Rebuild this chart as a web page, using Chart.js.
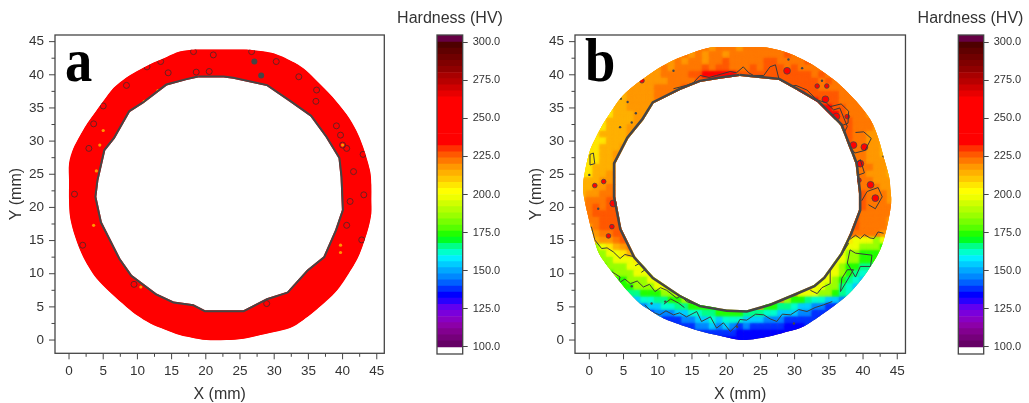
<!DOCTYPE html>
<html>
<head>
<meta charset="utf-8">
<title>Hardness maps</title>
<script src="https://cdn.jsdelivr.net/npm/chart.js@4/dist/chart.umd.min.js"></script>
<style>
  html, body { margin: 0; padding: 0; background: #fff; width: 1029px; height: 403px; overflow: hidden; }
  canvas { position: absolute; top: 0; filter: blur(0.6px); }
</style>
</head>
<body>
<canvas id="panelA" width="395" height="403" style="left:0"></canvas>
<canvas id="barA" width="120" height="403" style="left:390px"></canvas>
<canvas id="panelB" width="395" height="403" style="left:520px"></canvas>
<canvas id="barB" width="117" height="403" style="left:912px"></canvas>
<script>
// colour scale, lower edge of each band and its colour
const bandFloors = [100,104,108,112,116,120,124,128,132,136,140,144,148,152,156,160,164,168,172,176,180,184,188,192,196,200,204,208,212,216,220,224,228,232,236,240,244,248,252,256,260,264,268,272,276,280,284,288,292,296,300];
const bandColors = ['#660066','#75007a','#82008f','#8c00a8','#8800c4','#7a00dc','#6000f0','#2800ff','#0000ff','#0030ff','#0060ff','#0088ff','#00a8ff','#00ccff','#00eeff','#00ffcc','#00ff88','#00ff22','#22ff00','#55ff00','#77ff00','#99ff00','#b4ff00','#d0ff00','#eeff00','#ffff00','#ffe600','#ffc800','#ffb000','#ff9800','#ff7800','#ff5800','#ff3000','#ff0000','#ff0000','#ff0000','#ff0000','#ff0000','#ff0000','#ff0000','#ff0000','#e80000','#d00000','#b80000','#a80000','#900000','#800000','#700000','#600000','#4e0000','#660044'];
const barTop = 304.6;
const barTicks = [100,125,150,175,200,225,250,275,300];

// panel a, ring outlines in mm
const outerA = [[16.2,43.5],[18.5,43.8],[21,43.8],[23.5,43.8],[25.5,43.8],[27,43.7],[30,43.2],[33,41.8],[34.7,40.6],[36.2,39.1],[38.5,36.7],[40.6,34],[42,31.6],[43,29.1],[44,25.6],[44.2,23.4],[44.2,21.2],[44.2,19.1],[43.8,17],[43.2,15],[42.5,13],[41.6,11.2],[39.2,7.5],[36.2,4.6],[34.2,3],[32.3,1.8],[30,1.2],[28,0.75],[25.5,0.2],[23,0],[20.1,0],[18,0.35],[16.2,0.75],[14,1.6],[11.9,2.5],[10,3.7],[8.4,5],[6,7.2],[4,9.3],[2.6,11.5],[1.6,13.6],[0.7,16.2],[0.15,18.6],[0,21],[0,24],[0,26.6],[0.6,28.8],[1.6,30.8],[2.5,32.4],[3.6,34],[5,36],[6.5,38],[8.4,39.6],[10.4,40.8],[12.3,41.8],[14.3,42.7]];
const innerA = [[18.9,39.6],[22.6,39.6],[24,39.4],[28.9,38.3],[32.3,35.9],[35.3,33.7],[37.5,30.6],[39.4,27.4],[39.7,24.6],[39.9,19.6],[38.9,16.6],[37.2,12.6],[34.8,10.6],[31.9,7.3],[28.9,6.3],[25.5,4.5],[19.9,4.5],[18.2,5.4],[15.3,5.8],[12.8,7],[9.2,9.8],[7.5,12.3],[4.8,17.8],[4,21.6],[4.3,24.1],[5.3,28.6],[6.7,30.4],[8.9,34.4],[10.9,35.7],[14.3,38.4],[17.2,39.2]];
const loopsA = [[18.2,43.5],[21.1,43],[11.4,41.2],[13.4,42],[14.5,40.3],[18.6,40.4],[20.5,40.5],[8.4,38.4],[5,35.3],[3.6,32.6],[2.9,28.9],[0.8,22],[2,14.3],[9.5,8.4],[36.2,37.7],[33.6,39.7],[36.1,36],[39.1,32.3],[39.7,30.9],[40,29.4],[40.6,28.9],[43,28],[41.1,20.9],[43.1,21.9],[40.6,17.3],[42.8,15.1],[41.6,25.4],[28.9,5.5],[26.7,43.5],[30.3,42]];
const blotsA = [[27.1,42],[28.1,39.9]];
const softSpotsA = [[5,31.6],[4.5,29.4],[39.7,13.2],[39.7,14.3],[40,29.4],[13,37.6],[11,36],[10.5,8],[3.6,17.3],[4,25.5]];

// panel b, ring outlines in mm
const outerB = [[17.7,44.1],[20,44.2],[22,44.2],[24,44.2],[25.9,44.1],[28.4,43.5],[30.4,42.7],[32.3,41.7],[34.6,40.1],[36.7,38.4],[39,36],[41.1,33.2],[42.2,30.5],[43,27.6],[43.8,24.6],[44,22.6],[44.1,20.6],[43.5,17.1],[42.5,13.6],[40.6,10.3],[39,8.2],[37.2,6.3],[34.2,4],[32.5,2.8],[30.8,1.8],[28,1],[25.5,0.4],[22.5,0],[20.5,0.3],[18.6,0.75],[16.4,1.3],[14.2,2],[10.8,3.3],[9,4.4],[7.4,5.5],[5.5,7.5],[3.3,10.3],[2.2,11.8],[1.3,13.3],[0.5,16],[-0.15,18.6],[-0.9,22.6],[-0.6,25.6],[0.1,28.6],[0.9,30.4],[1.8,32.2],[3.1,34.3],[4.5,36.4],[6.1,38],[7.9,39.4],[10,40.9],[12.3,42.2],[15,43.3]];
const innerB = [[22,39.8],[24,39.6],[27.7,39.2],[30.3,37.7],[33.3,35.9],[36.7,32.4],[38.9,26.6],[39.4,22.1],[39.4,19.6],[38.1,16.1],[36.7,13.1],[34.2,9.5],[32.8,8.3],[29.9,7],[26.4,5.5],[23,4.5],[20.1,4.6],[16.2,5.3],[13.3,6.8],[9.4,9.5],[6.7,12.6],[4.7,16.8],[3.8,21.6],[3.8,26.6],[5.7,30.4],[7.9,33.2],[9.4,35.7],[13.3,37.7],[16.2,38.9],[19.1,39.4]];

// hardness read per 1 mm cell, first row is y=44, first column is x=-1
const levelCodes = { a:132, b:136, c:144, d:152, e:160, f:164, g:172, h:184, i:196, j:204, k:212, l:216, m:220, n:224, o:240 };
const hardnessRowsB = [
  '.................mmlmmmlmmmmmm',
  '.............llmlmlmmlmmmmmmmmnmmm',
  '...........lllmlmmlmmnmmmmmnnmmmmnmm',
  '.........kllmlmmmmnmnnmmmnmnnnmnmmmmml',
  '.......kllllmmmmnnooooonnnnnnnnnnnmnmmml',
  '......kklllllmmmmnnnnnnnnnnnnnnnnnnmnmmml',
  '.....kkllllmmmmnn.............nnnnnmmmmmml',
  '....jkkllllmmmnn...............oonnnnnmmmml',
  '....jkkllllmnn...................oonnnmmmmml',
  '...jjkkllllmn.....................ooonnmmmll',
  '...jjkkklllm........................oonmmmlll',
  '..jjkkkklll...........................nnmmmllk',
  '..jjkkklll............................nnmmmllk',
  '.jjkkkkll..............................nmmllkk',
  '.jjjkkkl...............................nmmllkk',
  'jjjkkkll...............................nmmllkk',
  'ijjkkll.................................mmllkk',
  'ijjkkll.................................mmlllk',
  'jjkkkl..................................mmmllk',
  'jjkklm..................................mmlllk',
  'kkkllm..................................nmmlll',
  'kkllmm..................................nmmmll',
  'kllmmn..................................nnmmml',
  'lmmmnn..................................nnmmml',
  'mmnmnn..................................nnmmmm',
  'mmnnnn..................................nmmmmm',
  '.mmnnn.................................nnmmmml',
  '.lmnnnn................................nnmmmml',
  '.jlmmnn................................nmmmmll',
  '.ikllmnn...............................jiiihih',
  '..hijklmn.............................jiihhhgh',
  '..hhiijkl.............................ihhggghh',
  '...hhiiij............................iihhgggfg',
  '...ghhhiii...........................ihggffffg',
  '....ghhhiii.........................iihgfeefff',
  '.....gghhhii.......................iihgfeddef',
  '.....fgghhhii.....................iihhfedcdee',
  '......effggghhi.................iiihhgfedcdd',
  '.......ddeeffggh..............hggfeeddcccc',
  '........ccddeeffgggg.......ggffeddccbbcc',
  '.........bbcccddeeffggggfffeedddccbbbb',
  '............bbbccddedeeedddcccbbbbba',
  '..............bbbccdcdcbcbbbbbaaabb',
  '................bbbbbbbaaaaaaaaaa',
  '...................aaaaaaaaa'
];

// iso-hardness lines in mm
const contoursB = [
  [[0.3,17.1],[0.8,15.1],[1.8,13.8],[2.6,13.9],[3.5,13.3],[4.5,12.3],[5.2,12.9],[6.4,12.6]],
  [[38.1,15.2],[38.9,15.8],[39.6,15.3],[40.2,15.9],[41,15.4],[41.6,15.3],[42.2,16.3],[43,16.1]],
  [[3.3,10.3],[4.5,9.5],[4.2,8.5],[5.2,9.2],[6,8.5],[7,8.9],[7.9,8],[8.8,8.4],[9.6,7.3],[10.4,7.9],[11.3,7.5],[12.8,6.3],[13.4,6.7],[14.2,5.8],[15.7,5.3]],
  [[8.1,5.3],[9.2,4.2],[10.3,3.8],[11.2,4.4],[12.3,3.8],[13.2,4.1],[14.2,3.5],[15.7,4.3],[16.4,2.8],[17.7,3.5],[18.6,1.8],[19.6,2.6],[20.6,1.3],[21.6,2.3],[22,3.1],[23,3],[24.3,3.9],[25.5,3.8],[26.4,3.2],[27.4,2.8],[28.2,3.9],[29.4,3.8],[30.6,4.6],[31.8,4.3],[33,4.9],[34.2,5.3],[35.5,5.8]],
  [[36.7,7.3],[37.4,8.5],[38.6,10.6],[37.7,10.6],[36.9,9.3],[36.7,7.3]],
  [[38.9,13.1],[41.3,12.8],[41.1,11.1],[39.6,11.1],[38.9,9.5],[37.7,11.6],[38.1,13.6],[38.9,13.1]],
  [[32.3,7.5],[33.3,7],[34,7.9],[35.2,8.5],[35.2,10.6],[36.7,12.6],[37.9,14.6]],
  [[12.3,37.9],[14.2,38.4],[15.2,38.8],[16.2,39.9],[17.5,39.6],[18.6,39.9],[20.6,40.5],[21.5,40.3],[22.5,41.2],[23.3,40.3],[24,39.9],[25.5,39.9],[26.4,41.2],[27.2,41.5],[27.7,39.4]],
  [[27.7,39.4],[28.9,38.2],[30.2,38.4],[31.8,37.7],[33.3,36.2],[34.6,35.8],[35.7,34.7],[36.6,35],[37.7,32.2],[37.2,31.2]],
  [[35.2,35.2],[36.8,35.6],[37.9,34.5],[37.8,32.7],[36.8,32.3],[36.1,33.4]],
  [[38.9,26.6],[39.6,27.2],[40.2,25.2],[38.5,24.6]],
  [[0.1,28],[0.6,28.2],[0.8,26.6],[0.1,26.4],[0.1,28]],
  [[39.8,21],[40.6,22.4],[42.2,23],[42.8,21.6],[41.8,19.8],[40.8,20.4]],
  [[38.9,31.3],[40.1,31.4],[41.2,30.4],[40.3,28.6],[38.8,28.2],[37.9,29.4]],
  [[10.9,5.4],[11.9,6.2],[13,5.6],[13.9,4.9]],
  [[6.7,11.2],[7.4,11.6],[8.4,10.8],[7.6,10.2]]
];
const islandsLargeB = [[28.9,40.6],[34.5,36.3],[36.1,33.7],[38.6,29.4],[40.2,29.1],[39.6,26.6],[41.1,23.4],[41.8,21.4],[3.5,20.6]];
const islandsSmallB = [[33.3,38.3],[34.7,38.3],[37.7,33.7],[39.4,24.1],[0.8,23.3],[2.1,23.9],[3.3,17.1],[2.8,15.7],[7.7,39.1]];
const dotsB = [[12.3,40.6],[29.1,42.3],[31.1,41],[34,39.1],[4.5,32.1],[6.2,32.8],[6.8,34.2],[5.6,35.9],[4.6,36.4],[43,27.7],[0,24.9],[1.3,19.8],[6.2,8.1],[9.1,5.5],[11.1,5.8],[21.6,2],[29.9,2.5]];

const EDGE = '#454545';
const INK = '#333';
Chart.defaults.font.family = '"Liberation Sans", Arial, sans-serif';
Chart.defaults.color = INK;
Chart.defaults.animation = false;
Chart.defaults.responsive = false;

const hvColor = hv => {
  let c = bandColors[0];
  bandFloors.forEach((f, i) => { if (hv >= f) c = bandColors[i]; });
  return c;
};
const toPts = list => list.map(p => ({ x: p[0], y: p[1] }));

function cellsFrom(rows) {
  const pts = [];
  rows.forEach((row, r) => {
    [...row].forEach((code, i) => {
      if (levelCodes[code]) pts.push({ x: i - 1, y: 44 - r, hv: levelCodes[code] });
    });
  });
  return pts;
}

// clip every mark to the ring, outer edge rounded through the read points, hole left as read
const ringClip = {
  id: 'ringClip',
  beforeDatasetsDraw(chart, args, opts) {
    const { ctx, scales: { x, y } } = chart;
    const outer = opts.outer.map(p => [x.getPixelForValue(p[0]), y.getPixelForValue(p[1])]);
    const n = outer.length;
    ctx.save();
    ctx.beginPath();
    ctx.moveTo(outer[0][0], outer[0][1]);
    for (let i = 0; i < n; i++) {
      const p0 = outer[(i + n - 1) % n], p1 = outer[i], p2 = outer[(i + 1) % n], p3 = outer[(i + 2) % n];
      ctx.bezierCurveTo(p1[0] + (p2[0] - p0[0]) / 6, p1[1] + (p2[1] - p0[1]) / 6, p2[0] - (p3[0] - p1[0]) / 6, p2[1] - (p3[1] - p1[1]) / 6, p2[0], p2[1]);
    }
    ctx.closePath();
    opts.inner.forEach((p, i) => {
      const px = x.getPixelForValue(p[0]), py = y.getPixelForValue(p[1]);
      if (i) ctx.lineTo(px, py); else ctx.moveTo(px, py);
    });
    ctx.closePath();
    ctx.clip('evenodd');
  },
  beforeDatasetDraw(chart, args) {
    if (chart.data.datasets[args.index].softCells) chart.ctx.filter = 'blur(1.6px)';
  },
  afterDatasetDraw(chart) { chart.ctx.filter = 'none'; },
  afterDatasetsDraw(chart) { chart.ctx.restore(); }
};

// box, long and short ticks, panel letter
const frame = {
  id: 'frame',
  afterDraw(chart, args, opts) {
    const { ctx, chartArea: a, scales: { x, y } } = chart;
    ctx.save();
    ctx.strokeStyle = EDGE;
    ctx.lineWidth = 1.3;
    ctx.strokeRect(a.left, a.top, a.right - a.left, a.bottom - a.top);
    ctx.lineWidth = 1;
    ctx.beginPath();
    x.ticks.forEach(t => {
      const p = x.getPixelForValue(t.value);
      ctx.moveTo(p, a.bottom); ctx.lineTo(p, a.bottom + 6);
      if (t.value < 45) {
        const m = x.getPixelForValue(t.value + 2.5);
        ctx.moveTo(m, a.bottom); ctx.lineTo(m, a.bottom + 3.5);
      }
    });
    y.ticks.forEach(t => {
      const p = y.getPixelForValue(t.value);
      ctx.moveTo(a.left, p); ctx.lineTo(a.left - 6, p);
      if (t.value < 45) {
        const m = y.getPixelForValue(t.value + 2.5);
        ctx.moveTo(a.left, m); ctx.lineTo(a.left - 3.5, m);
      }
    });
    ctx.stroke();
    ctx.fillStyle = '#000';
    ctx.font = 'bold 62px "Liberation Serif", serif';
    ctx.translate(a.left + opts.dx, 81);
    ctx.scale(0.88, 1);
    ctx.fillText(opts.letter, 0, 0);
    ctx.restore();
  }
};

function ringPanel(id, letter, dx, right, xMin, xMax, outer, inner, baseColor, edgeWidth, marks) {
  const tickFont = { size: 13.5 };
  return new Chart(document.getElementById(id), {
    type: 'scatter',
    data: {
      datasets: [
        { data: toPts(inner.concat([inner[0]])), showLine: true, borderColor: EDGE, borderWidth: edgeWidth, pointRadius: 0 }
      ].concat(marks, [
        { data: toPts(outer.concat([outer[0]])), showLine: true, fill: 'shape', backgroundColor: baseColor, borderColor: baseColor, borderWidth: 8, pointRadius: 0 }
      ])
    },
    options: {
      layout: { padding: { top: 35, right: right, bottom: 0, left: 0 } },
      plugins: { legend: { display: false }, tooltip: { enabled: false }, ringClip: { outer: outer, inner: inner }, frame: { letter: letter, dx: dx } },
      scales: {
        x: {
          min: xMin, max: xMax,
          grid: { display: false, drawTicks: false }, border: { display: false },
          ticks: { stepSize: 5, includeBounds: false, padding: 10, maxRotation: 0, font: tickFont, color: INK },
          title: { display: true, text: 'X (mm)', font: { size: 16 }, color: INK, padding: { top: 0, bottom: -1.5 } },
          afterFit: s => { s.height = 49.7; }
        },
        y: {
          min: -2, max: 46,
          grid: { display: false, drawTicks: false }, border: { display: false },
          ticks: { stepSize: 5, includeBounds: false, padding: 11, font: tickFont, color: INK },
          title: { display: true, text: 'Y (mm)', font: { size: 16 }, color: INK, padding: { top: 7, bottom: 0 } },
          afterFit: s => { s.width = 55; }
        }
      }
    },
    plugins: [ringClip, frame]
  });
}

const barFrame = {
  id: 'barFrame',
  afterDraw(chart, args, opts) {
    const { ctx, chartArea: a } = chart;
    ctx.save();
    ctx.strokeStyle = EDGE;
    ctx.lineWidth = 1.3;
    ctx.strokeRect(a.left, a.top, a.right - a.left, a.bottom - a.top);
    ctx.fillStyle = INK;
    ctx.font = '16px "Liberation Sans", Arial, sans-serif';
    ctx.textAlign = 'center';
    ctx.textBaseline = 'middle';
    ctx.fillText('Hardness (HV)', opts.titleX, 18.5);
    ctx.restore();
  }
};

function colorBar(id, left, axisWidth, titleX) {
  return new Chart(document.getElementById(id), {
    type: 'bar',
    data: {
      labels: ['HV'],
      datasets: bandFloors.map((f, i) => ({
        data: [[f, i + 1 < bandFloors.length ? bandFloors[i + 1] : barTop]],
        backgroundColor: bandColors[i],
        grouped: false, barPercentage: 1, categoryPercentage: 1, borderWidth: 0
      }))
    },
    options: {
      layout: { padding: { left: left, right: 0, bottom: 49, top: 35 } },
      plugins: { legend: { display: false }, tooltip: { enabled: false }, barFrame: { titleX: titleX } },
      scales: {
        x: { display: false },
        y: {
          position: 'right', min: 95.4, max: 304.6,
          afterBuildTicks: s => { s.ticks = barTicks.map(v => ({ value: v })); },
          grid: { drawOnChartArea: false, tickLength: 5, tickColor: EDGE }, border: { display: false },
          ticks: { padding: 5, font: { size: 11 }, color: INK, callback: v => v.toFixed(1) },
          afterFit: s => { s.width = axisWidth; }
        }
      }
    },
    plugins: [barFrame]
  });
}

const cellsB = cellsFrom(hardnessRowsB);
const cellColorsB = cellsB.map(c => hvColor(c.hv));
const marksA = [
  { data: toPts(blotsA), pointRadius: 3, pointBackgroundColor: EDGE, pointBorderWidth: 0 },
  { data: toPts(loopsA), pointRadius: 3, pointBackgroundColor: 'rgba(0,0,0,0)', pointBorderColor: '#6a2020', pointBorderWidth: 1 },
  { data: toPts(softSpotsA), pointRadius: 1.6, pointBackgroundColor: hvColor(216), pointBorderWidth: 0 }
];
const marksB = contoursB.map(line => ({ data: toPts(line), showLine: true, borderColor: '#3a3a3a', borderWidth: 1, pointRadius: 0 })).concat([
  { data: toPts(dotsB), pointRadius: 1.2, pointBackgroundColor: EDGE, pointBorderWidth: 0 },
  { data: toPts(islandsLargeB), pointRadius: 3.4, pointBackgroundColor: hvColor(240), pointBorderColor: EDGE, pointBorderWidth: 0.8 },
  { data: toPts(islandsSmallB), pointRadius: 2.3, pointBackgroundColor: hvColor(240), pointBorderColor: EDGE, pointBorderWidth: 0.8 },
  { data: cellsB, softCells: true, pointStyle: 'rect', pointRadius: 5, pointBackgroundColor: cellColorsB, pointBorderWidth: 0 },
  { data: cellsB, pointStyle: 'rect', pointRadius: 5, pointBackgroundColor: cellColorsB, pointBorderWidth: 0 }
]);

ringPanel('panelA', 'a', 10, 10.7, -2.05, 46.1, outerA, innerA, '#ff0000', 4, marksA);
ringPanel('panelB', 'b', 10, 9.3, -2.09, 46.2, outerB, innerB, '#ff9800', 5, marksB);
colorBar('barA', 47, 47.3, 60);
colorBar('barB', 46.3, 45.3, 58.5);
</script>
</body>
</html>
